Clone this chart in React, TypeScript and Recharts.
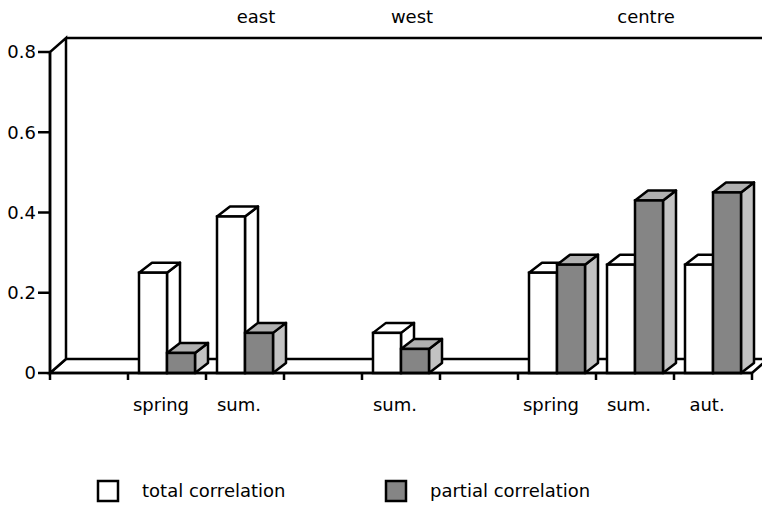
import React from 'react';
import { ComposedChart, Bar, XAxis, YAxis, Customized } from 'recharts';

// ---- data ----
const seasons = ['', 'spring', 'sum.', '', 'sum.', '', 'spring', 'sum.', 'aut.'];
const regionLabels = ['', '', 'east', '', 'west', '', '', 'centre', ''];
const totalCorrelation = [null, 0.25, 0.39, null, 0.1, null, 0.25, 0.27, 0.27];
const partialCorrelation = [null, 0.05, 0.1, null, 0.06, null, 0.27, 0.43, 0.45];
const yTicks = [0, 0.2, 0.4, 0.6, 0.8];
const seriesNames = ['total correlation', 'partial correlation'];

const data = seasons.map((s, i) => ({
  season: s,
  region: regionLabels[i],
  total: totalCorrelation[i],
  partial: partialCorrelation[i],
}));

// ---- layout ----
const W = 762;
const H = 507;
const L = 50;
const R = 752;
const T = 52;
const B = 373;
const SLOT = (R - L) / seasons.length;
const DX = 16;
const DY = 14;
const BAR_DX = 13;
const BAR_DY = 10;
const SW = 2.5;
const FONT = '"DejaVu Sans", sans-serif';

const faces = {
  total: { front: '#ffffff', top: '#ffffff', side: '#ffffff' },
  partial: { front: '#858585', top: '#b0b0b0', side: '#c2c2c2' },
};

const make3DBar = (c: { front: string; top: string; side: string }) => (props: any) => {
  const { x, y, width, height } = props;
  if (height == null || width == null || isNaN(height)) return null;
  const w = width;
  const h = height;
  return (
    <g>
      <polygon
        points={`${x + w},${y} ${x + w + BAR_DX},${y - BAR_DY} ${x + w + BAR_DX},${y + h - BAR_DY} ${x + w},${y + h}`}
        fill={c.side}
        stroke="#000"
        strokeWidth={SW}
        strokeLinejoin="round"
      />
      <polygon
        points={`${x},${y} ${x + BAR_DX},${y - BAR_DY} ${x + w + BAR_DX},${y - BAR_DY} ${x + w},${y}`}
        fill={c.top}
        stroke="#000"
        strokeWidth={SW}
        strokeLinejoin="round"
      />
      <rect x={x} y={y} width={w} height={h} fill={c.front} stroke="#000" strokeWidth={SW} />
    </g>
  );
};

const Frame = () => (
  <g>
    <polygon
      points={`${L},${B} ${L + DX},${B - DY} ${R + DX},${B - DY} ${R},${B}`}
      fill="#fff"
      stroke="#000"
      strokeWidth={SW}
    />
    <polygon
      points={`${L},${B} ${L},${T} ${L + DX},${T - DY} ${L + DX},${B - DY}`}
      fill="#fff"
      stroke="#000"
      strokeWidth={SW}
    />
    <line x1={L + DX} y1={T - DY} x2={W} y2={T - DY} stroke="#000" strokeWidth={SW} />
    {/* legend */}
    {seriesNames.map((name, i) => {
      const bx = i === 0 ? 98 : 386;
      const c = i === 0 ? faces.total : faces.partial;
      return (
        <g key={name}>
          <rect x={bx} y={481} width={20} height={20} fill={c.front} stroke="#000" strokeWidth={SW} />
          <text x={bx + 44} y={497} fontFamily={FONT} fontSize={18} fill="#000">
            {name}
          </text>
        </g>
      );
    })}
  </g>
);

const BottomTick = (props: any) => {
  const { x, payload, index } = props;
  const half = SLOT / 2;
  return (
    <g>
      <line x1={x - half} x2={x - half} y1={B} y2={B + 7} stroke="#000" strokeWidth={SW} />
      {index === seasons.length - 1 && (
        <line x1={x + half} x2={x + half} y1={B} y2={B + 7} stroke="#000" strokeWidth={SW} />
      )}
      <text x={x - 6} y={411} textAnchor="middle" fontFamily={FONT} fontSize={18} fill="#000">
        {payload.value}
      </text>
    </g>
  );
};

const TopTick = (props: any) => {
  const { x, payload } = props;
  return (
    <text x={x + 11} y={23} textAnchor="middle" fontFamily={FONT} fontSize={18} fill="#000">
      {payload.value}
    </text>
  );
};

export default function App() {
  return (
    <div style={{ width: W, height: H, background: '#fff' }}>
      <style>{`body{margin:0;background:#fff}`}</style>
      <ComposedChart
        width={W}
        height={H}
        data={data}
        margin={{ top: 0, right: W - R, bottom: H - B - 50, left: 0 }}
        barGap={0}
        barSize={28}
      >
        <Customized component={Frame} />
        <XAxis
          dataKey="season"
          interval={0}
          height={50}
          axisLine={{ stroke: '#000', strokeWidth: SW }}
          tickLine={false}
          tick={<BottomTick />}
        />
        <XAxis
          xAxisId="top"
          dataKey="region"
          orientation="top"
          interval={0}
          height={T}
          axisLine={false}
          tickLine={false}
          tick={<TopTick />}
        />
        <YAxis
          width={L}
          domain={[0, 0.8]}
          ticks={yTicks}
          interval={0}
          tickSize={12}
          tickMargin={2}
          axisLine={{ stroke: '#000', strokeWidth: SW }}
          tickLine={{ stroke: '#000', strokeWidth: SW }}
          tick={{ fill: '#000', fontFamily: FONT, fontSize: 18 }}
          tickFormatter={(v: number) => (v === 0 ? '0' : v.toFixed(1))}
        />
        <Bar dataKey="total" name={seriesNames[0]} isAnimationActive={false} shape={make3DBar(faces.total)} />
        <Bar dataKey="partial" name={seriesNames[1]} isAnimationActive={false} shape={make3DBar(faces.partial)} />
      </ComposedChart>
    </div>
  );
}
